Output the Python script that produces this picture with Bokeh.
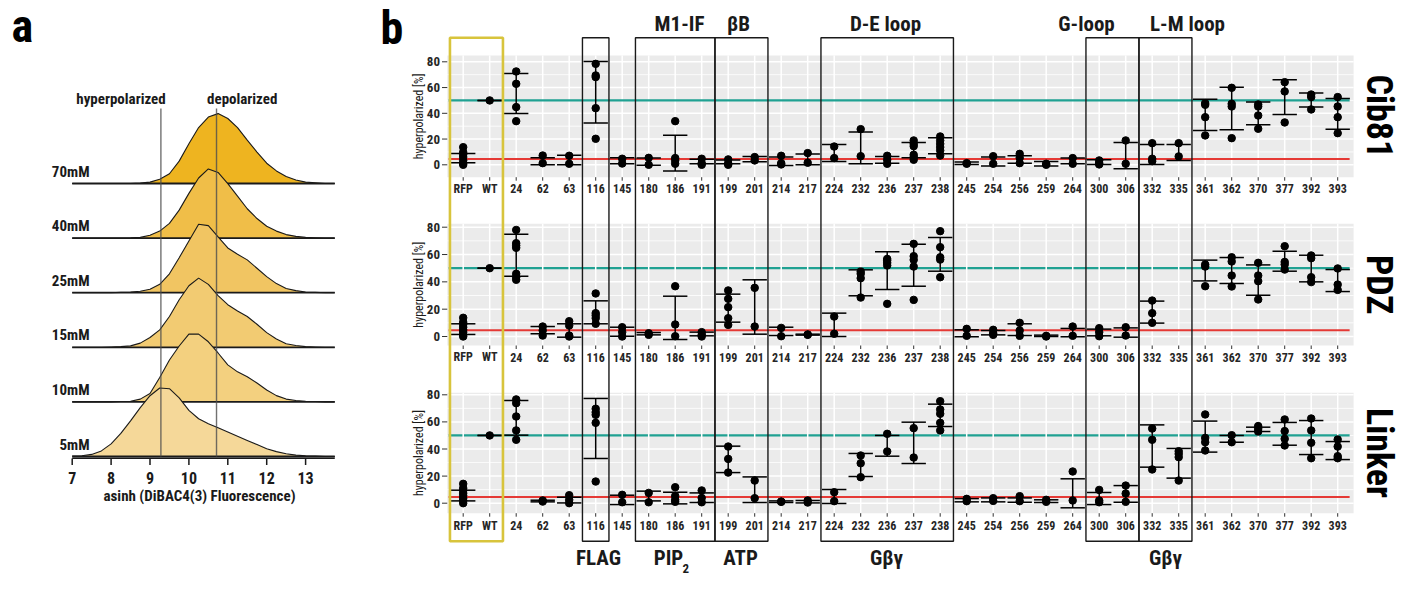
import math
from bokeh.plotting import figure
from bokeh.models import Range1d
from bokeh.core.properties import value
from bokeh.embed import file_html
from bokeh.resources import INLINE

FONT = "'Liberation Sans Narrow', 'Roboto Condensed', 'DejaVu Sans Condensed', sans-serif"

# ---------------- panel a data ----------------
RIDGE_LABELS = ["5mM", "10mM", "15mM", "25mM", "40mM", "70mM"]
RIDGE_COLORS = ["#F5D899", "#F3D07F", "#F2CB72", "#F1C562", "#F0BE48", "#EEB420"]
DENS_X = [7.0, 7.25, 7.5, 7.75, 8.0, 8.25, 8.5, 8.75, 9.0, 9.25, 9.5, 9.75, 10.0, 10.25,
          10.5, 10.75, 11.0, 11.25, 11.5, 11.75, 12.0, 12.25, 12.5, 12.75, 13.0, 13.25, 13.5, 13.75]
D_5MM = [0.005, 0.01, 0.03, 0.08, 0.18, 0.33, 0.51, 0.70, 0.87, 0.98, 0.97, 0.84, 0.66, 0.54,
         0.47, 0.41, 0.35, 0.29, 0.23, 0.17, 0.11, 0.07, 0.04, 0.02, 0.01, 0.005, 0.0, 0.0]
D_10MM = [0, 0, 0, 0, 0, 0.005, 0.01, 0.04, 0.12, 0.35, 0.60, 0.80, 0.97, 0.97,
          0.86, 0.70, 0.53, 0.43, 0.36, 0.27, 0.17, 0.09, 0.04, 0.02, 0.01, 0.005, 0.0, 0.0]
D_15MM = [0, 0, 0, 0, 0.005, 0.01, 0.02, 0.06, 0.14, 0.25, 0.44, 0.68, 0.88, 0.99,
          0.90, 0.74, 0.61, 0.52, 0.44, 0.33, 0.21, 0.12, 0.05, 0.025, 0.01, 0.005, 0.0, 0.0]
D_25MM = [0, 0, 0, 0, 0, 0.005, 0.01, 0.02, 0.05, 0.12, 0.27, 0.50, 0.74, 0.98,
          0.96, 0.80, 0.64, 0.55, 0.47, 0.35, 0.23, 0.13, 0.06, 0.03, 0.01, 0.005, 0.0, 0.0]
D_40MM = [0, 0, 0, 0, 0, 0, 0.003, 0.01, 0.04, 0.10, 0.21, 0.40, 0.64, 0.86,
          0.99, 0.94, 0.78, 0.60, 0.42, 0.28, 0.17, 0.10, 0.05, 0.025, 0.01, 0.005, 0.0, 0.0]
D_70MM = [0, 0, 0, 0, 0, 0, 0, 0.005, 0.02, 0.06, 0.14, 0.32, 0.57, 0.80,
          0.95, 1.0, 0.93, 0.80, 0.62, 0.45, 0.29, 0.18, 0.10, 0.05, 0.02, 0.01, 0.0, 0.0]
RIDGE_DENS = [D_5MM, D_10MM, D_15MM, D_25MM, D_40MM, D_70MM]
A_TICKS = [7, 8, 9, 10, 11, 12, 13]
HYPER_X = 9.28
DEPOL_X = 10.71

# ---------------- panel b data ----------------
CATS = ["RFP", "WT", "24", "62", "63", "116", "145", "180", "186", "191", "199", "201",
        "214", "217", "224", "232", "236", "237", "238", "245", "254", "256", "259", "264",
        "300", "306", "332", "335", "361", "362", "370", "377", "392", "393"]
Y_TICKS = [0, 20, 40, 60, 80]
Y_MINOR = [10, 30, 50, 70]
WT_LEVEL = 50
RFP_LEVEL = 4.5

CIB81_POINTS = [[13.7, 9.8, 8.0, 6.0, 3.4, 1.3, 0.0], [50], [72.5, 62.9, 44.8, 33.9], [7.2, 1.3],
                [7.0, 0.8], [78.4, 69.4, 68.1, 44.0, 20.2], [4.7, 1.0], [5.4, 0.0],
                [33.9, 5.2, 3.4, 0.8], [4.7, 1.3, 0.0], [4.2, 1.0, 0.0], [6.0, 3.4],
                [7.0, 1.3, 0.3], [9.1, 1.6], [14.2, 5.2], [27.7, 6.7], [7.0, 3.9, 0.8],
                [18.9, 16.3, 14.5, 7.8, 6.0, 3.9], [22.0, 18.9, 16.3, 13.7, 11.1, 7.2],
                [1.3, 0.8], [6.7, 0.8], [8.5, 5.4, 1.3], [0.8, 0.0], [5.2, 0.8],
                [3.4, 1.3, 0.3], [18.9, 0.8], [16.8, 4.7, 2.8], [16.8, 6.5],
                [47.9, 46.6, 37.0, 22.8], [59.8, 47.4, 45.3, 20.7], [46.9, 45.3, 38.3, 28.0],
                [64.2, 57.0, 32.9], [54.6, 52.6, 43.0], [52.6, 45.3, 37.0, 24.6]]
CIB81_LOW = [1.6, 50, 39.9, 0.0, 0.0, 32.4, 0.8, -0.3, -4.9, 0.8, 0.8, 2.3, -0.5, 0.0, 2.6, 0.8,
             1.3, 5.4, 8.5, 0.3, -1.0, 1.3, -1.0, 0.8, 0.3, -3.1, 0.3, 3.4, 26.7, 27.2, 31.1,
             39.1, 44.8, 27.7]
CIB81_HIGH = [8.8, 50, 70.9, 5.4, 7.5, 80.3, 5.4, 5.2, 23.0, 4.4, 3.8, 6.5, 6.0, 8.3, 15.8, 25.4,
              6.5, 17.3, 21.0, 2.1, 6.0, 7.0, 2.6, 5.2, 3.9, 17.3, 15.8, 15.8, 51.0, 60.3, 48.7,
              66.0, 55.7, 51.5]

PDZ_POINTS = [[13.7, 10.5, 8.8, 6.8, 4.9, 3.2, 1.2, 0.0], [50],
              [78.0, 68.3, 66.6, 64.9, 45.9, 43.4, 41.5], [7.3, 4.4, 0.7], [11.2, 8.0, 0.7, 0.0],
              [31.5, 17.1, 15.4, 13.4, 9.3], [6.8, 3.2, 0.0], [2.4, 1.2], [36.8, 8.8, 0.2],
              [3.2, 1.2, 0.0], [33.7, 27.6, 21.5, 13.4, 8.5], [35.6, 7.3], [6.3, 0.2], [1.5, 1.2],
              [14.6, 2.0], [47.6, 45.9, 42.7, 28.5], [56.8, 55.6, 53.9, 52.0, 23.9],
              [67.8, 58.8, 56.1, 51.2, 26.8], [77.1, 65.4, 58.0, 56.3, 43.4], [5.6, 0.5],
              [4.9, 2.4, 1.2], [10.0, 4.4, 0.5], [0.5, 0.0], [7.3, 0.5], [6.1, 3.2, 0.2],
              [6.8, 0.7], [26.3, 17.1, 10.0], [], [52.7, 51.2, 36.8], [58.0, 54.9, 44.6, 36.6],
              [53.9, 44.6, 40.5, 27.1], [66.1, 54.6, 52.7, 49.0], [59.3, 57.3, 43.4, 39.8],
              [49.8, 38.0, 34.1]]
NAN = float("nan")
PDZ_LOW = [1.5, 50, 44.1, 2.0, -0.5, 9.3, 0.2, 1.2, -2.2, 0.5, 10.5, 1.7, 0.7, 1.0, 0.0, 29.8,
           34.4, 36.8, 47.8, -0.2, 1.2, 0.7, 0.0, -0.2, 0.5, -0.5, 9.8, NAN, 40.7, 38.8, 30.2,
           47.8, 40.0, 32.9]
PDZ_HIGH = [9.3, 50, 74.9, 7.3, 9.3, 26.1, 6.8, 2.9, 29.5, 3.2, 31.0, 41.5, 6.8, 1.7, 17.1, 48.8,
            62.0, 67.6, 72.4, 4.9, 4.4, 9.3, 1.0, 5.9, 5.4, 6.3, 25.9, NAN, 55.9, 57.8, 52.4,
            62.4, 59.5, 49.0]

LINKER_POINTS = [[14.3, 11.1, 9.4, 7.4, 5.7, 3.7, 2.0, 0.0], [50], [76.6, 73.8, 64.0, 53.7, 46.8],
                 [2.0, 1.2], [5.9, 2.5, 0.0], [69.7, 67.2, 65.2, 59.3, 16.0], [6.2, 0.7],
                 [7.6, 0.7], [11.8, 5.4, 2.5, 1.0], [9.4, 3.9, 0.7], [41.8, 32.7, 22.6],
                 [16.7, 3.7], [1.2, 1.0], [2.0, 0.5], [8.1, 1.5], [35.2, 29.5, 19.2], [51.2, 38.2],
                 [55.4, 33.7], [75.3, 69.2, 66.0, 59.3, 53.7], [3.2, 1.5], [3.7, 1.7], [5.2, 1.5],
                 [2.5, 1.0], [23.4, 2.0], [9.8, 2.0, 0.7], [13.0, 7.1, 1.0], [55.1, 46.8, 24.9],
                 [38.4, 36.4, 34.0, 16.7], [65.5, 48.2, 45.0, 38.9], [50.2, 45.0],
                 [56.9, 54.9, 52.9], [61.8, 53.2, 47.5, 42.6], [62.5, 53.7, 44.6, 33.2],
                 [47.0, 41.8, 34.7, 33.2]]
LINKER_LOW = [1.7, 50, 50.2, 1.0, 0.2, 33.0, -1.0, 1.7, -0.5, 0.5, 22.6, 0.5, 0.5, 0.2, -0.2,
              19.7, 34.7, 29.3, 56.6, 1.0, 1.0, 0.7, 0.5, -3.4, -1.0, 0.7, 26.6, 18.5, 37.7,
              45.0, 52.9, 42.8, 35.9, 32.2]
LINKER_HIGH = [9.6, 50, 75.8, 2.2, 4.4, 77.3, 5.9, 8.9, 8.1, 7.6, 42.1, 19.4, 1.7, 2.0, 10.1,
               36.7, 50.0, 59.8, 73.1, 3.4, 3.9, 3.9, 2.5, 18.0, 7.9, 13.0, 57.8, 40.4, 60.6,
               50.0, 56.1, 59.6, 61.0, 45.5]

FACETS = ["Cib81", "PDZ", "Linker"]
TOP_LABELS = ["M1-IF", "\u03b2B", "D-E loop", "G-loop", "L-M loop"]
BOTTOM_LABELS = ["FLAG", "PIP", "ATP", "G\u03b2\u03b3", "G\u03b2\u03b3"]
# boxes around category groups, in category positions (1 = first category)
BOX_SPANS = [(0.5, 2.5), (5.5, 6.5), (7.5, 10.5), (10.5, 12.5), (14.5, 19.5), (24.5, 26.5), (26.5, 28.5)]

# ---------------- styling / layout constants (screen pixels) ----------------
TEAL = "#1FA192"
RED = "#E53935"
GREY_BG = "#EBEBEB"
DARK = "#1a1a1a"
W, H = 1405, 600

A_PX7, A_PXU = 71.7, 38.9          # panel a: pixel of x=7, pixels per unit
A_BASE5, A_STEP = 456.0, 54.6      # baseline of 5mM ridge, ridge spacing
RIDGE_SCALE = 1.28
XPX0, DXPX = 462.7, 26.5            # panel b: pixel of first category, px per category
# per-facet pixel geometry: (y of 0, y of 80, grey top, grey bottom, x-label y)
FACET_GEOM = [(164.3, 61.3, 55.0, 176.7, 188.3),
              (336.0, 226.7, 223.3, 345.0, 356.7),
              (502.7, 394.3, 392.3, 512.7, 525.0)]


def ax_a(px):
    return 7 + (px - A_PX7) / A_PXU


def ay_a(py):
    return (A_BASE5 - py) / A_STEP


def xu(px):
    return 1 + (px - XPX0) / DXPX


p = figure(width=W, height=H, output_backend="svg", toolbar_location=None,
           x_range=Range1d(0, W), y_range=Range1d(H, 0),
           x_axis_location=None, y_axis_location=None, min_border=0,
           outline_line_color=None)
p.grid.visible = False
p.extra_x_ranges["a"] = Range1d(ax_a(0), ax_a(W))
p.extra_y_ranges["a"] = Range1d(ay_a(H), ay_a(0))
p.extra_x_ranges["b"] = Range1d(xu(0), xu(W))


def text(x, y, t, size, style="bold", align="center", baseline="middle", angle=0.0,
         color=DARK, **kw):
    p.text(x=x, y=y, text=t, angle=angle, text_font=value(FONT), text_font_style=style,
           text_font_size=size, text_align=align, text_baseline=baseline, text_color=color, **kw)


# ============ panel a ============
AR = dict(x_range_name="a", y_range_name="a")
for k in range(len(RIDGE_LABELS) - 1, -1, -1):
    dens = RIDGE_DENS[k]
    top = [k + RIDGE_SCALE * d for d in dens]
    p.varea(x=DENS_X, y1=[k] * len(DENS_X), y2=top, fill_color=RIDGE_COLORS[k], **AR)
    p.line(DENS_X, top, line_color=DARK, line_width=1.1, **AR)
    p.line([DENS_X[0], DENS_X[-1]], [k, k], line_color=DARK, line_width=1.8, **AR)

for xv in (HYPER_X, DEPOL_X):
    p.line([xv, xv], [0, ay_a(108)], line_color="#4d4d4d", line_alpha=0.8, line_width=1.4, **AR)

# x axis of panel a
p.line([DENS_X[0], DENS_X[-1]], [ay_a(457.7), ay_a(457.7)], line_color=DARK, line_width=1.6, **AR)
p.segment(x0=A_TICKS, x1=A_TICKS, y0=[458.0] * len(A_TICKS), y1=[464.5] * len(A_TICKS),
          line_color=DARK, line_width=1.5, x_range_name="a")
text(A_TICKS, [477.5] * len(A_TICKS), [str(t) for t in A_TICKS], "16px", x_range_name="a")
text([199], [495.5], ["asinh (DiBAC4(3) Fluorescence)"], "15px")

text([89] * len(RIDGE_LABELS), [A_BASE5 - k * A_STEP - 3 for k in range(len(RIDGE_LABELS))],
     RIDGE_LABELS, "15px", align="right", baseline="bottom")
text([120.5, 241.7], [98, 98], ["hyperpolarized", "depolarized"], "15px")
text([11], [25], ["a"], "46px", align="left", color="black")

# ============ panel b ============
FACET_DATA = [(CIB81_POINTS, CIB81_LOW, CIB81_HIGH),
              (PDZ_POINTS, PDZ_LOW, PDZ_HIGH),
              (LINKER_POINTS, LINKER_LOW, LINKER_HIGH)]
n = len(CATS)
xpos = list(range(1, n + 1))
XL, XR = 0.4, n + 0.6
CAP = 0.46

for f, (name, geom, data) in enumerate(zip(FACETS, FACET_GEOM, FACET_DATA)):
    y0, y80, gtop, gbot, ylab = geom
    s = (y0 - y80) / 80.0
    rname = "f%d" % f
    p.extra_y_ranges[rname] = Range1d(start=(y0 - H) / s, end=y0 / s)
    FR = dict(x_range_name="b", y_range_name=rname)
    pts, lo, hi = data

    p.quad(left=[XL], right=[XR], top=[gtop], bottom=[gbot], fill_color=GREY_BG, line_color=None,
           x_range_name="b")
    p.segment(x0=[XL] * len(Y_MINOR), x1=[XR] * len(Y_MINOR), y0=Y_MINOR, y1=Y_MINOR,
              line_color="white", line_width=0.8, **FR)
    p.segment(x0=[XL] * len(Y_TICKS), x1=[XR] * len(Y_TICKS), y0=Y_TICKS, y1=Y_TICKS,
              line_color="white", line_width=1.5, **FR)

    def vgrid():
        p.segment(x0=xpos, x1=xpos, y0=[gtop] * n, y1=[gbot] * n, line_color="white",
                  line_width=1.5, x_range_name="b")

    teal = dict(x0=[XL + 0.05], x1=[XR - 0.15], y0=[WT_LEVEL], y1=[WT_LEVEL], line_color=TEAL,
                line_width=2.2, **FR)
    if f == 0:
        vgrid()
        p.segment(**teal)
    else:
        p.segment(**teal)
        vgrid()
    p.segment(x0=[XL + 0.05], x1=[XR - 0.15], y0=[RFP_LEVEL], y1=[RFP_LEVEL], line_color=RED,
              line_width=2.0, **FR)

    # error bars (mean +- sd)
    ex, elo, ehi = [], [], []
    for i in range(n):
        if not (math.isnan(lo[i]) or math.isnan(hi[i])):
            ex.append(xpos[i]); elo.append(lo[i]); ehi.append(hi[i])
    p.segment(x0=ex, x1=ex, y0=elo, y1=ehi, line_color="black", line_width=1.5, **FR)
    p.segment(x0=[x - CAP for x in ex], x1=[x + CAP for x in ex], y0=elo, y1=elo,
              line_color="black", line_width=1.5, **FR)
    p.segment(x0=[x - CAP for x in ex], x1=[x + CAP for x in ex], y0=ehi, y1=ehi,
              line_color="black", line_width=1.5, **FR)
    # individual replicate points
    px_, py_ = [], []
    for i in range(n):
        for v in pts[i]:
            px_.append(xpos[i]); py_.append(v)
    p.scatter(px_, py_, size=7.5, color="black", **FR)

    # y axis ticks and labels
    p.segment(x0=[xu(441.5)] * len(Y_TICKS), x1=[XL] * len(Y_TICKS), y0=Y_TICKS, y1=Y_TICKS,
              line_color="#333333", line_width=1.0, **FR)
    text([xu(439.5)] * len(Y_TICKS), Y_TICKS, [str(t) for t in Y_TICKS], "13px", align="right",
         color="#262626", **FR)
    # x axis ticks and labels
    p.segment(x0=xpos, x1=xpos, y0=[gbot] * n, y1=[gbot + 3.5] * n, line_color="#333333",
              line_width=1.0, x_range_name="b")
    text(xpos, [ylab] * n, CATS, "12px", color="#262626", x_range_name="b")
    # y title and facet strip
    text([418.3], [(gtop + gbot) / 2], ["hyperpolarized [%]"], "12px", style="normal",
         angle=math.pi / 2)
    text([1378], [(gtop + gbot) / 2], [name], "36px", angle=-math.pi / 2, color="black")

# region boxes
BOX_TOP, BOX_BOTTOM = 37.3, 540.7
for j, (a, b) in enumerate(BOX_SPANS):
    col = "#D8C43C" if j == 0 else DARK
    lw = 2.6 if j == 0 else 1.4
    p.quad(left=[a], right=[b], top=[BOX_TOP], bottom=[BOX_BOTTOM], fill_color=None,
           line_color=col, line_width=lw, x_range_name="b")

text([679, 738, 885, 1086, 1187], [23] * len(TOP_LABELS), TOP_LABELS, "21px")
text([598, 668, 740, 886, 1165], [557] * len(BOTTOM_LABELS), BOTTOM_LABELS, "21px")
text([682], [568], ["2"], "13px", align="left")
text([380], [27], ["b"], "46px", align="left", color="black")

open("out.html", "w").write(file_html(p, INLINE))
